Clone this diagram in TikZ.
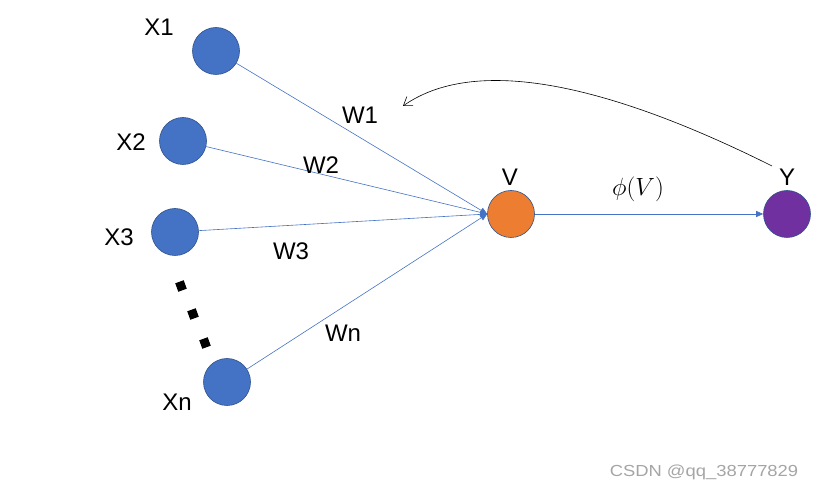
\documentclass[tikz,border=0pt]{standalone}
\usepackage[no-math]{fontspec}
\setmainfont{Liberation Sans}
\newfontfamily\wmfont{Liberation Sans}[FakeStretch=1.15]
\usetikzlibrary{arrows.meta}

\definecolor{myblue}{RGB}{68,114,196}
\definecolor{myline}{RGB}{47,82,143}
\definecolor{myorange}{RGB}{237,125,49}
\definecolor{mypurple}{RGB}{112,48,160}
\definecolor{mygray}{RGB}{165,165,165}

\begin{document}
\begin{tikzpicture}[x=1pt, y=-1pt]
\tikzstyle{every node} = [font = \fontsize{24}{26}\selectfont, inner sep = 0pt]
\tikzstyle{neuron} = [circle, draw = myline, line width = .6pt, minimum size = 47pt]
\tikzstyle{wire} = [draw = myblue, line width = .6pt, -{Triangle[length=7pt, width=6pt]}]
\tikzstyle{dot} = [fill = black, minimum size = 9pt, rotate = 20]
\useasboundingbox (0,0) rectangle (815,494);

% input neurons
\node[neuron, fill = myblue] (x1) at (216,51) {};
\node[neuron, fill = myblue] (x2) at (183,141) {};
\node[neuron, fill = myblue] (x3) at (175,232) {};
\node[neuron, fill = myblue] (xn) at (227,382) {};
% sum and output
\node[neuron, fill = myorange] (v) at (511,214) {};
\node[neuron, fill = mypurple] (y) at (787,214) {};

\node (lx1) at (159,27) {X1};
\node (lx2) at (131,142) {X2};
\node (lx3) at (119,237) {X3};
\node (lxn) at (177,402) {Xn};
\node (lv) at (510,177) {V};
\node (ly) at (787,177) {Y};

\foreach \i/\px/\py in {1/181/286, 2/193/314, 3/205/343}
{
    \node[dot] (d\i) at (\px,\py) {};
}

\draw[wire] (x1) -- (v.west); %x1 to v
\draw[wire] (x2) -- (v.west); %x2 to v
\draw[wire] (x3) -- (v.west); %x3 to v
\draw[wire] (xn) -- (v.west); %xn to v
\draw[wire] (v) -- (y); %v to y

\node (w1) at (360,115) {W1};
\node (w2) at (321,165) {W2};
\node (w3) at (291,251) {W3};
\node (wn) at (343,333) {Wn};
\node (phi) at (638,189) {\fontsize{25}{27}\selectfont$\phi(V)$};

% feedback
\coordinate (fbstart) at (772,166);
\coordinate (fbend) at (403,106);
\draw[-{Straight Barb[length=8pt, width=11pt]}, line width = .6pt] (fbstart) .. controls (620,90) and (480,52) .. (fbend);

\node[text = mygray, font = \wmfont\fontsize{16}{18}\selectfont] (wm) at (704,472) {CSDN @qq\_38777829};
\end{tikzpicture}
\end{document}
